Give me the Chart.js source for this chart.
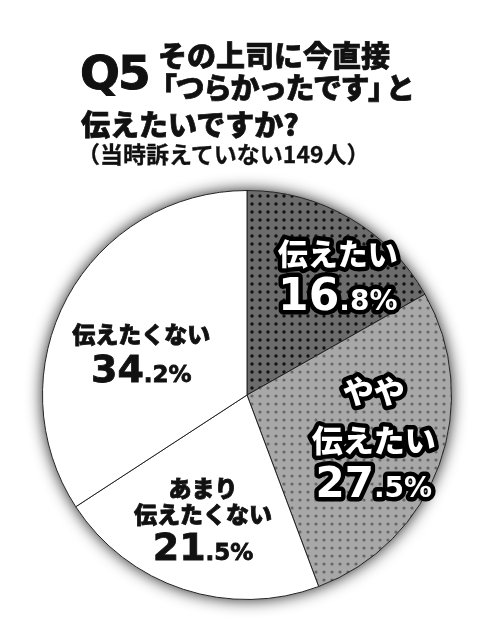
<!DOCTYPE html>
<html>
<head>
<meta charset="utf-8">
<script src="https://cdn.jsdelivr.net/npm/chart.js@4/dist/chart.umd.min.js"></script>
<style>
  html, body { margin: 0; padding: 0; background: #fff; }
  #wrap { position: relative; width: 498px; height: 640px; overflow: hidden; }
  #chart { position: absolute; left: 0; top: 0; }
  .t { position: absolute; white-space: nowrap; color: #111; font-family: "Noto Sans CJK JP", sans-serif; font-weight: 900; -webkit-text-stroke: 0.7px #111; }
  .q { font-family: "DejaVu Sans", sans-serif; font-weight: bold; font-size: 47px; letter-spacing: -2px; left: 80px; top: 49px; line-height: 47px; -webkit-text-stroke: 1px #111; }
  .l { font-size: 29px; line-height: 29px; }
  .sub { font-size: 23px; line-height: 23px; font-weight: 700; -webkit-text-stroke: 0.3px #111; }
  .l2 { letter-spacing: -1.5px; }
  .cl { letter-spacing: -11px; }
</style>
</head>
<body>
<div id="wrap">
  <canvas id="chart" width="498" height="640"></canvas>
  <div class="t q">Q5</div>
  <div class="t l" style="left:158px; top:40px;">その上司に今直接</div>
  <div class="t l l2" style="left:148px; top:72px;">「つらかったです<span class="cl">」</span>と</div>
  <div class="t l" style="left:81px; top:109px;">伝えたいですか?</div>
  <div class="t sub" style="left:77px; top:142px;">（当時訴えていない149人）</div>
</div>
<script>
// 回答データ（時計回り、上から）
const categories = ['伝えたい', 'やや伝えたい', 'あまり伝えたくない', '伝えたくない'];
const labelLines = [['伝えたい'], ['やや', '伝えたい'], ['あまり', '伝えたくない'], ['伝えたくない']];
const percents = [16.8, 27.5, 21.5, 34.2];

// ドット柄のパターン
function dots(base, dot, size, r) {
    const c = document.createElement('canvas');
    c.width = size; c.height = size;
    const g = c.getContext('2d');
    g.fillStyle = base;
    g.fillRect(0, 0, size, size);
    g.fillStyle = dot;
    g.beginPath();
    g.arc(size / 2, size / 2, r, 0, Math.PI * 2);
    g.fill();
    return g.createPattern(c, 'repeat');
}

const ctx = document.getElementById('chart').getContext('2d');
const fills = [
    dots('#6c6c6c', '#111111', 8, 1.7),
    dots('#a8a8a8', '#666666', 8, 1.6),
    '#ffffff',
    '#ffffff'
];

// ラベルの位置（半径に対する比率）と文字サイズ
const labelStyle = [
    {dx: 0.444, dy: -0.415, outline: true, size: 30, num: 44, dec: 28, steps: [45]},
    {dx: 0.62, dy: 0.50, outline: true, size: 31, num: 42, dec: 28, steps: [49, 45]},
    {dx: -0.215, dy: 0.805, outline: false, size: 23, num: 38, dec: 23, steps: [26, 37]},
    {dx: -0.517, dy: -0.063, outline: false, size: 23, num: 38, dec: 23, steps: [39]}
];

const shadowPlugin = {
    id: 'shadow',
    beforeDatasetsDraw(chart) {
        const arc = chart.getDatasetMeta(0).data[0];
        if (!arc) return;
        const c = chart.ctx;
        c.save();
        c.shadowColor = 'rgba(0,0,0,0.9)';
        c.shadowBlur = 16;
        c.fillStyle = '#fff';
        c.beginPath();
        c.arc(arc.x, arc.y, arc.outerRadius, 0, Math.PI * 2);
        c.fill();
        c.restore();
    }
};

function drawText(c, text, x, y, outline) {
    if (outline) {
        c.lineJoin = 'round';
        c.lineWidth = 9;
        c.strokeStyle = '#000';
        c.strokeText(text, x, y);
        c.fillStyle = '#fff';
    } else {
        c.lineWidth = 0.8;
        c.strokeStyle = '#111';
        c.strokeText(text, x, y);
        c.fillStyle = '#111';
    }
    c.fillText(text, x, y);
}

const labelPlugin = {
    id: 'labels',
    afterDatasetsDraw(chart) {
        const c = chart.ctx;
        const meta = chart.getDatasetMeta(0);
        meta.data.forEach((arc, i) => {
            const st = labelStyle[i];
            const r = arc.outerRadius;
            const x = arc.x + st.dx * r;
            const y = arc.y + st.dy * r;
            c.save();
            c.textBaseline = 'alphabetic';
            c.textAlign = 'center';
            // 上の行
            const lines = labelLines[i];
            let yy = y;
            for (let k = lines.length - 1; k >= 0; k--) {
                yy -= st.steps[k];
                c.font = '900 ' + st.size + 'px "Noto Sans CJK JP", sans-serif';
                drawText(c, lines[k], x, yy, st.outline);
            }
            // 数字（整数部大、小数部小）
            const parts = percents[i].toFixed(1).split('.');
            const big = parts[0];
            const small = '.' + parts[1] + '%';
            c.textAlign = 'left';
            c.font = 'bold ' + st.num + 'px "DejaVu Sans", sans-serif';
            const wb = c.measureText(big).width;
            c.font = 'bold ' + st.dec + 'px "DejaVu Sans", sans-serif';
            const ws = c.measureText(small).width;
            const x0 = x - (wb + ws) / 2;
            c.font = 'bold ' + st.num + 'px "DejaVu Sans", sans-serif';
            drawText(c, big, x0, y, st.outline);
            c.font = 'bold ' + st.dec + 'px "DejaVu Sans", sans-serif';
            drawText(c, small, x0 + wb, y, st.outline);
            c.restore();
        });
    }
};

new Chart(ctx, {
    type: 'pie',
    data: {
        labels: categories,
        datasets: [{
            data: percents,
            backgroundColor: fills,
            borderColor: '#222',
            borderWidth: 1,
            borderAlign: 'center'
        }]
    },
    options: {
        responsive: false,
        animation: false,
        devicePixelRatio: 1,
        rotation: 0,
        layout: { padding: { top: 190, bottom: 40, left: 42, right: 46 } },
        plugins: {
            legend: { display: false },
            tooltip: { enabled: false }
        }
    },
    plugins: [shadowPlugin, labelPlugin]
});
</script>
</body>
</html>
